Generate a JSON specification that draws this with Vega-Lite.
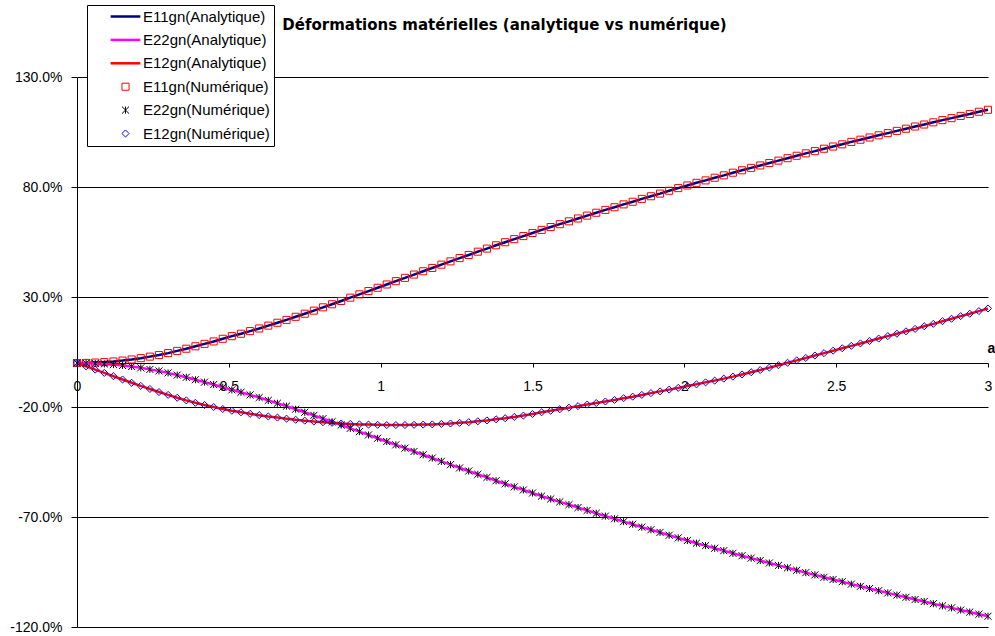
{
  "$schema": "https://vega.github.io/schema/vega-lite/v6.json",
  "width": 911,
  "height": 550,
  "autosize": {"type": "none"},
  "padding": {"left": 77, "top": 77, "right": 7, "bottom": 9},
  "background": "white",
  "title": {
    "text": "Déformations matérielles (analytique vs numérique)",
    "font": "DejaVu Sans",
    "fontSize": 15,
    "fontWeight": "bold",
    "color": "black",
    "anchor": "middle",
    "frame": "group",
    "dx": -28,
    "offset": 0,
    "dy": 28
  },
  "config": {
    "view": {"stroke": null},
    "axis": {
      "labelFont": "Liberation Sans",
      "labelFontSize": 14,
      "labelColor": "black",
      "domainColor": "black",
      "tickColor": "black",
      "domainWidth": 1,
      "tickWidth": 1
    }
  },
  "datasets": {
    "d": [
      {"a": 0.00, "E11": 0.0, "E22": 0.0, "E12": 0.0, "N11": 0.0, "N22": 0.0, "N12": 0.0},
      {"a": 0.03, "E11": 0.05, "E22": -0.05, "E12": -1.5, "N11": 0.05, "N22": -0.05, "N12": -1.5},
      {"a": 0.06, "E11": 0.2, "E22": -0.2, "E12": -3.0, "N11": 0.2, "N22": -0.2, "N12": -3.0},
      {"a": 0.09, "E11": 0.4, "E22": -0.4, "E12": -4.5, "N11": 0.4, "N22": -0.4, "N12": -4.5},
      {"a": 0.12, "E11": 0.7, "E22": -0.7, "E12": -6.0, "N11": 0.7, "N22": -0.7, "N12": -6.0},
      {"a": 0.15, "E11": 1.1, "E22": -1.1, "E12": -7.5, "N11": 1.1, "N22": -1.1, "N12": -7.5},
      {"a": 0.18, "E11": 1.6, "E22": -1.6, "E12": -9.0, "N11": 1.6, "N22": -1.6, "N12": -9.0},
      {"a": 0.21, "E11": 2.2, "E22": -2.2, "E12": -10.4, "N11": 2.2, "N22": -2.2, "N12": -10.4},
      {"a": 0.24, "E11": 2.9, "E22": -2.9, "E12": -11.8, "N11": 2.9, "N22": -2.9, "N12": -11.8},
      {"a": 0.27, "E11": 3.6, "E22": -3.6, "E12": -13.2, "N11": 3.6, "N22": -3.6, "N12": -13.2},
      {"a": 0.30, "E11": 4.5, "E22": -4.5, "E12": -14.5, "N11": 4.5, "N22": -4.5, "N12": -14.5},
      {"a": 0.33, "E11": 5.5, "E22": -5.5, "E12": -15.8, "N11": 5.5, "N22": -5.5, "N12": -15.8},
      {"a": 0.36, "E11": 6.5, "E22": -6.5, "E12": -17.0, "N11": 6.5, "N22": -6.5, "N12": -17.0},
      {"a": 0.39, "E11": 7.6, "E22": -7.6, "E12": -18.1, "N11": 7.6, "N22": -7.6, "N12": -18.1},
      {"a": 0.42, "E11": 8.7, "E22": -8.7, "E12": -19.1, "N11": 8.7, "N22": -8.7, "N12": -19.1},
      {"a": 0.45, "E11": 9.8, "E22": -9.8, "E12": -20.0, "N11": 9.8, "N22": -9.8, "N12": -20.0},
      {"a": 0.48, "E11": 11.0, "E22": -11.0, "E12": -20.9, "N11": 11.0, "N22": -11.0, "N12": -20.9},
      {"a": 0.51, "E11": 12.2, "E22": -12.2, "E12": -21.7, "N11": 12.2, "N22": -12.2, "N12": -21.7},
      {"a": 0.54, "E11": 13.3, "E22": -13.3, "E12": -22.4, "N11": 13.3, "N22": -13.3, "N12": -22.4},
      {"a": 0.57, "E11": 14.5, "E22": -14.5, "E12": -23.1, "N11": 14.5, "N22": -14.5, "N12": -23.1},
      {"a": 0.60, "E11": 15.7, "E22": -15.7, "E12": -23.7, "N11": 15.7, "N22": -15.7, "N12": -23.7},
      {"a": 0.63, "E11": 17.0, "E22": -17.0, "E12": -24.3, "N11": 17.0, "N22": -17.0, "N12": -24.3},
      {"a": 0.66, "E11": 18.3, "E22": -18.3, "E12": -24.8, "N11": 18.3, "N22": -18.3, "N12": -24.8},
      {"a": 0.69, "E11": 19.6, "E22": -19.6, "E12": -25.3, "N11": 19.6, "N22": -19.6, "N12": -25.3},
      {"a": 0.72, "E11": 21.0, "E22": -21.0, "E12": -25.8, "N11": 21.0, "N22": -21.0, "N12": -25.8},
      {"a": 0.75, "E11": 22.4, "E22": -22.4, "E12": -26.2, "N11": 22.4, "N22": -22.4, "N12": -26.2},
      {"a": 0.78, "E11": 23.8, "E22": -23.8, "E12": -26.6, "N11": 23.8, "N22": -23.8, "N12": -26.6},
      {"a": 0.81, "E11": 25.3, "E22": -25.3, "E12": -26.9, "N11": 25.3, "N22": -25.3, "N12": -26.9},
      {"a": 0.84, "E11": 26.7, "E22": -26.7, "E12": -27.2, "N11": 26.7, "N22": -26.7, "N12": -27.2},
      {"a": 0.87, "E11": 28.2, "E22": -28.2, "E12": -27.5, "N11": 28.2, "N22": -28.2, "N12": -27.5},
      {"a": 0.90, "E11": 29.7, "E22": -29.7, "E12": -27.7, "N11": 29.7, "N22": -29.7, "N12": -27.7},
      {"a": 0.93, "E11": 31.2, "E22": -31.2, "E12": -27.9, "N11": 31.2, "N22": -31.2, "N12": -27.9},
      {"a": 0.96, "E11": 32.7, "E22": -32.7, "E12": -28.0, "N11": 32.7, "N22": -32.7, "N12": -28.0},
      {"a": 0.99, "E11": 34.2, "E22": -34.2, "E12": -28.1, "N11": 34.2, "N22": -34.2, "N12": -28.1},
      {"a": 1.02, "E11": 35.7, "E22": -35.7, "E12": -28.2, "N11": 35.7, "N22": -35.7, "N12": -28.2},
      {"a": 1.05, "E11": 37.2, "E22": -37.2, "E12": -28.2, "N11": 37.2, "N22": -37.2, "N12": -28.2},
      {"a": 1.08, "E11": 38.7, "E22": -38.7, "E12": -28.2, "N11": 38.7, "N22": -38.7, "N12": -28.2},
      {"a": 1.11, "E11": 40.2, "E22": -40.2, "E12": -28.1, "N11": 40.2, "N22": -40.2, "N12": -28.1},
      {"a": 1.14, "E11": 41.7, "E22": -41.7, "E12": -28.0, "N11": 41.7, "N22": -41.7, "N12": -28.0},
      {"a": 1.17, "E11": 43.2, "E22": -43.2, "E12": -27.9, "N11": 43.2, "N22": -43.2, "N12": -27.9},
      {"a": 1.20, "E11": 44.7, "E22": -44.7, "E12": -27.7, "N11": 44.7, "N22": -44.7, "N12": -27.7},
      {"a": 1.23, "E11": 46.2, "E22": -46.2, "E12": -27.5, "N11": 46.2, "N22": -46.2, "N12": -27.5},
      {"a": 1.26, "E11": 47.7, "E22": -47.7, "E12": -27.2, "N11": 47.7, "N22": -47.7, "N12": -27.2},
      {"a": 1.29, "E11": 49.1, "E22": -49.1, "E12": -26.9, "N11": 49.1, "N22": -49.1, "N12": -26.9},
      {"a": 1.32, "E11": 50.6, "E22": -50.6, "E12": -26.5, "N11": 50.6, "N22": -50.6, "N12": -26.5},
      {"a": 1.35, "E11": 52.0, "E22": -52.0, "E12": -26.1, "N11": 52.0, "N22": -52.0, "N12": -26.1},
      {"a": 1.38, "E11": 53.5, "E22": -53.5, "E12": -25.6, "N11": 53.5, "N22": -53.5, "N12": -25.6},
      {"a": 1.41, "E11": 54.9, "E22": -54.9, "E12": -25.1, "N11": 54.9, "N22": -54.9, "N12": -25.1},
      {"a": 1.44, "E11": 56.3, "E22": -56.3, "E12": -24.5, "N11": 56.3, "N22": -56.3, "N12": -24.5},
      {"a": 1.47, "E11": 57.7, "E22": -57.7, "E12": -23.9, "N11": 57.7, "N22": -57.7, "N12": -23.9},
      {"a": 1.50, "E11": 59.1, "E22": -59.1, "E12": -23.2, "N11": 59.1, "N22": -59.1, "N12": -23.2},
      {"a": 1.53, "E11": 60.5, "E22": -60.5, "E12": -22.4, "N11": 60.5, "N22": -60.5, "N12": -22.4},
      {"a": 1.56, "E11": 61.8, "E22": -61.8, "E12": -21.7, "N11": 61.8, "N22": -61.8, "N12": -21.7},
      {"a": 1.59, "E11": 63.1, "E22": -63.1, "E12": -21.0, "N11": 63.1, "N22": -63.1, "N12": -21.0},
      {"a": 1.62, "E11": 64.4, "E22": -64.4, "E12": -20.3, "N11": 64.4, "N22": -64.4, "N12": -20.3},
      {"a": 1.65, "E11": 65.7, "E22": -65.7, "E12": -19.6, "N11": 65.7, "N22": -65.7, "N12": -19.6},
      {"a": 1.68, "E11": 67.0, "E22": -67.0, "E12": -18.9, "N11": 67.0, "N22": -67.0, "N12": -18.9},
      {"a": 1.71, "E11": 68.3, "E22": -68.3, "E12": -18.2, "N11": 68.3, "N22": -68.3, "N12": -18.2},
      {"a": 1.74, "E11": 69.6, "E22": -69.6, "E12": -17.5, "N11": 69.6, "N22": -69.6, "N12": -17.5},
      {"a": 1.77, "E11": 70.8, "E22": -70.8, "E12": -16.8, "N11": 70.8, "N22": -70.8, "N12": -16.8},
      {"a": 1.80, "E11": 72.1, "E22": -72.1, "E12": -16.0, "N11": 72.1, "N22": -72.1, "N12": -16.0},
      {"a": 1.83, "E11": 73.3, "E22": -73.3, "E12": -15.3, "N11": 73.3, "N22": -73.3, "N12": -15.3},
      {"a": 1.86, "E11": 74.6, "E22": -74.6, "E12": -14.5, "N11": 74.6, "N22": -74.6, "N12": -14.5},
      {"a": 1.89, "E11": 75.8, "E22": -75.8, "E12": -13.7, "N11": 75.8, "N22": -75.8, "N12": -13.7},
      {"a": 1.92, "E11": 77.0, "E22": -77.0, "E12": -12.9, "N11": 77.0, "N22": -77.0, "N12": -12.9},
      {"a": 1.95, "E11": 78.3, "E22": -78.3, "E12": -12.1, "N11": 78.3, "N22": -78.3, "N12": -12.1},
      {"a": 1.98, "E11": 79.5, "E22": -79.5, "E12": -11.3, "N11": 79.5, "N22": -79.5, "N12": -11.3},
      {"a": 2.01, "E11": 80.7, "E22": -80.7, "E12": -10.5, "N11": 80.7, "N22": -80.7, "N12": -10.5},
      {"a": 2.04, "E11": 81.9, "E22": -81.9, "E12": -9.7, "N11": 81.9, "N22": -81.9, "N12": -9.7},
      {"a": 2.07, "E11": 83.0, "E22": -83.0, "E12": -8.8, "N11": 83.0, "N22": -83.0, "N12": -8.8},
      {"a": 2.10, "E11": 84.2, "E22": -84.2, "E12": -8.0, "N11": 84.2, "N22": -84.2, "N12": -8.0},
      {"a": 2.13, "E11": 85.3, "E22": -85.3, "E12": -7.1, "N11": 85.3, "N22": -85.3, "N12": -7.1},
      {"a": 2.16, "E11": 86.5, "E22": -86.5, "E12": -6.2, "N11": 86.5, "N22": -86.5, "N12": -6.2},
      {"a": 2.19, "E11": 87.6, "E22": -87.6, "E12": -5.2, "N11": 87.6, "N22": -87.6, "N12": -5.2},
      {"a": 2.22, "E11": 88.7, "E22": -88.7, "E12": -4.2, "N11": 88.7, "N22": -88.7, "N12": -4.2},
      {"a": 2.25, "E11": 89.8, "E22": -89.8, "E12": -3.2, "N11": 89.8, "N22": -89.8, "N12": -3.2},
      {"a": 2.28, "E11": 90.9, "E22": -90.9, "E12": -2.1, "N11": 90.9, "N22": -90.9, "N12": -2.1},
      {"a": 2.31, "E11": 92.0, "E22": -92.0, "E12": -1.0, "N11": 92.0, "N22": -92.0, "N12": -1.0},
      {"a": 2.34, "E11": 93.1, "E22": -93.1, "E12": 0.1, "N11": 93.1, "N22": -93.1, "N12": 0.1},
      {"a": 2.37, "E11": 94.2, "E22": -94.2, "E12": 1.2, "N11": 94.2, "N22": -94.2, "N12": 1.2},
      {"a": 2.40, "E11": 95.3, "E22": -95.3, "E12": 2.3, "N11": 95.3, "N22": -95.3, "N12": 2.3},
      {"a": 2.43, "E11": 96.3, "E22": -96.3, "E12": 3.4, "N11": 96.3, "N22": -96.3, "N12": 3.4},
      {"a": 2.46, "E11": 97.4, "E22": -97.4, "E12": 4.5, "N11": 97.4, "N22": -97.4, "N12": 4.5},
      {"a": 2.49, "E11": 98.4, "E22": -98.4, "E12": 5.6, "N11": 98.4, "N22": -98.4, "N12": 5.6},
      {"a": 2.52, "E11": 99.4, "E22": -99.4, "E12": 6.7, "N11": 99.4, "N22": -99.4, "N12": 6.7},
      {"a": 2.55, "E11": 100.5, "E22": -100.5, "E12": 7.8, "N11": 100.5, "N22": -100.5, "N12": 7.8},
      {"a": 2.58, "E11": 101.5, "E22": -101.5, "E12": 8.9, "N11": 101.5, "N22": -101.5, "N12": 8.9},
      {"a": 2.61, "E11": 102.5, "E22": -102.5, "E12": 10.0, "N11": 102.5, "N22": -102.5, "N12": 10.0},
      {"a": 2.64, "E11": 103.5, "E22": -103.5, "E12": 11.1, "N11": 103.5, "N22": -103.5, "N12": 11.1},
      {"a": 2.67, "E11": 104.5, "E22": -104.5, "E12": 12.2, "N11": 104.5, "N22": -104.5, "N12": 12.2},
      {"a": 2.70, "E11": 105.5, "E22": -105.5, "E12": 13.3, "N11": 105.5, "N22": -105.5, "N12": 13.3},
      {"a": 2.73, "E11": 106.5, "E22": -106.5, "E12": 14.4, "N11": 106.5, "N22": -106.5, "N12": 14.4},
      {"a": 2.76, "E11": 107.5, "E22": -107.5, "E12": 15.5, "N11": 107.5, "N22": -107.5, "N12": 15.5},
      {"a": 2.79, "E11": 108.4, "E22": -108.4, "E12": 16.7, "N11": 108.4, "N22": -108.4, "N12": 16.7},
      {"a": 2.82, "E11": 109.4, "E22": -109.4, "E12": 17.8, "N11": 109.4, "N22": -109.4, "N12": 17.8},
      {"a": 2.85, "E11": 110.4, "E22": -110.4, "E12": 19.0, "N11": 110.4, "N22": -110.4, "N12": 19.0},
      {"a": 2.88, "E11": 111.3, "E22": -111.3, "E12": 20.1, "N11": 111.3, "N22": -111.3, "N12": 20.1},
      {"a": 2.91, "E11": 112.3, "E22": -112.3, "E12": 21.3, "N11": 112.3, "N22": -112.3, "N12": 21.3},
      {"a": 2.94, "E11": 113.2, "E22": -113.2, "E12": 22.4, "N11": 113.2, "N22": -113.2, "N12": 22.4},
      {"a": 2.97, "E11": 114.2, "E22": -114.2, "E12": 23.6, "N11": 114.2, "N22": -114.2, "N12": 23.6},
      {"a": 3.00, "E11": 115.1, "E22": -115.1, "E12": 24.8, "N11": 115.1, "N22": -115.1, "N12": 24.8}
    ]
  },
  "layer": [
    {
      "data": {"name": "d"},
      "transform": [
        {"fold": ["E11", "E22", "E12"], "as": ["series", "v"]}
      ],
      "mark": {"type": "line", "strokeWidth": 2.5},
      "encoding": {
        "x": {
          "field": "a", "type": "quantitative",
          "scale": {"domain": [0, 3], "nice": false, "zero": false},
          "axis": {
            "orient": "bottom", "offset": -264,
            "values": [0, 0.5, 1, 1.5, 2, 2.5, 3], "format": "~g",
            "grid": false, "tickSize": 4, "labelPadding": 12,
            "labelFlush": false, "labelOverlap": false,
            "title": "a", "titleX": 914, "titleY": -15,
            "titleFont": "Liberation Sans", "titleFontSize": 14, "titleFontWeight": "bold",
            "titleAlign": "center", "titleBaseline": "middle", "titleColor": "black"
          }
        },
        "y": {
          "field": "v", "type": "quantitative",
          "scale": {"domain": [-120, 130], "nice": false, "zero": false},
          "axis": {
            "values": [-120, -70, -20, 30, 80, 130],
            "labelExpr": "(datum.value < 0 ? '-' : '') + format(abs(datum.value), '.1f') + '%'",
            "grid": true, "gridColor": "black", "gridWidth": 1, "gridOpacity": 1,
            "tickSize": 6, "labelPadding": 9, "title": null
          }
        },
        "color": {
          "field": "series", "type": "nominal",
          "scale": {
            "domain": ["E11", "E22", "E12", "N11", "N22", "N12"],
            "range": ["#000080", "#FF00FF", "#FF0000", "#FF0000", "#000000", "#0000FF"]
          },
          "legend": {
            "title": null, "orient": "none", "legendX": 10, "legendY": -72,
            "strokeColor": "black", "fillColor": "white", "padding": 4, "cornerRadius": 0,
            "symbolOffset": 27, "labelOffset": 10, "rowPadding": 7.4,
            "labelFont": "Liberation Sans", "labelFontSize": 15, "labelColor": "black",
            "symbolSize": 50, "symbolStrokeWidth": 1,
            "labelExpr": "datum.label[0] == 'E' ? datum.label + 'gn(Analytique)' : 'E' + substring(datum.label, 1) + 'gn(Numérique)'",
            "encode": {"symbols": {"update": {"strokeWidth": {"signal": "datum.index < 3 ? 2.5 : 1"}}}}
          }
        }
      }
    },
    {
      "data": {"name": "d"},
      "transform": [
        {"fold": ["N11", "N22", "N12"], "as": ["series", "v"]}
      ],
      "mark": {"type": "point", "filled": false, "size": 50, "strokeWidth": 1, "opacity": 1},
      "encoding": {
        "x": {"field": "a", "type": "quantitative"},
        "y": {"field": "v", "type": "quantitative"},
        "color": {"field": "series", "type": "nominal"},
        "shape": {
          "field": "series", "type": "nominal",
          "scale": {
            "domain": ["E11", "E22", "E12", "N11", "N22", "N12"],
            "range": ["M-4.2,0L4.2,0", "M-4.2,0L4.2,0", "M-4.2,0L4.2,0", "square", "M-1,-1L1,1M-1,1L1,-1M0,-1L0,1", "diamond"]
          }
        }
      }
    }
  ]
}
